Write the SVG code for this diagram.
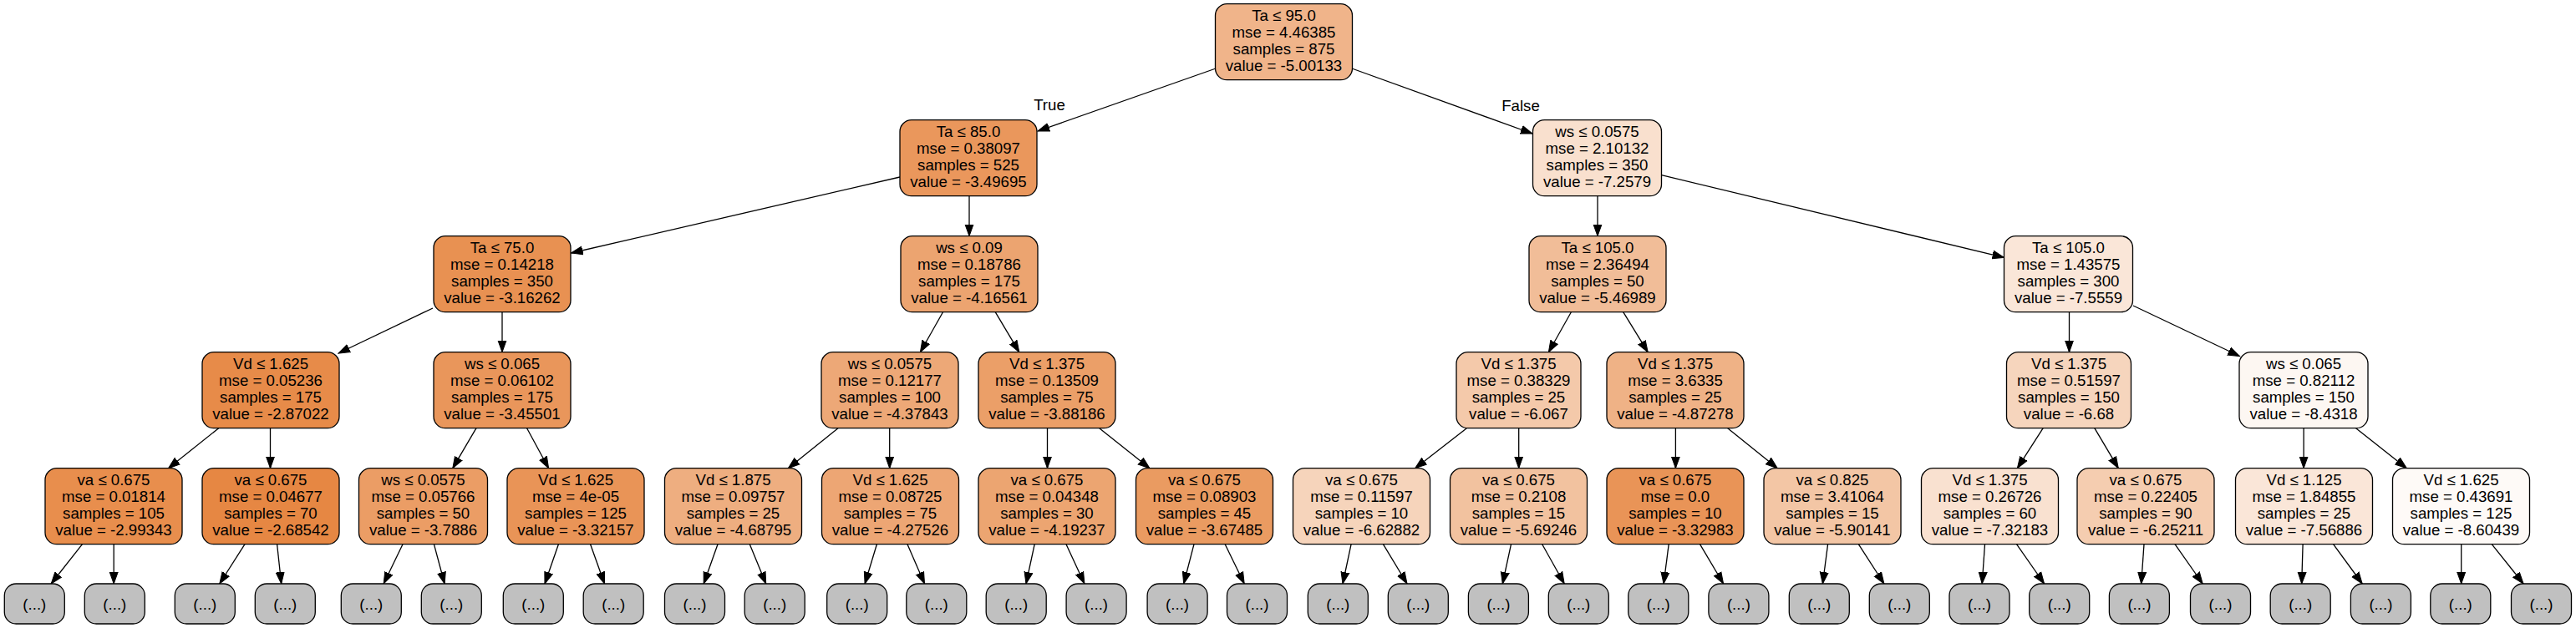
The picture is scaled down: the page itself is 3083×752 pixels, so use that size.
<svg xmlns="http://www.w3.org/2000/svg" width="3083" height="752" viewBox="0 0 3083 752">
<style>
text{font-family:"Liberation Sans",Arial,Helvetica,sans-serif;font-size:18.67px;text-anchor:middle;fill:#000}
.nd rect{stroke:#000;stroke-width:1.3}
.gr rect{fill:#c0c0c0;stroke:#000;stroke-width:1.3}
#edges line{stroke:#000;stroke-width:1.3;marker-end:url(#ah)}
</style>
<defs>
<marker id="ah" markerUnits="userSpaceOnUse" markerWidth="16" markerHeight="12" refX="14" refY="5" orient="auto" viewBox="0 0 16 10">
<path d="M0,0 L14,5 L0,10 z" fill="#000" stroke="#000" stroke-width="1"/>
</marker>
</defs>
<rect width="3083" height="752" fill="#fff"/>
<g id="edges">
<line x1="1455" y1="82" x2="1242" y2="157"/>
<line x1="1618" y1="82" x2="1834" y2="160"/>
<text x="1256" y="132">True</text>
<text x="1820" y="133">False</text>
<line x1="1077" y1="212" x2="683.5" y2="303"/>
<line x1="1160" y1="234.7" x2="1160" y2="282.7"/>
<line x1="1912" y1="234.7" x2="1912" y2="282.7"/>
<line x1="1988.5" y1="209.7" x2="2398.5" y2="308.3"/>
<line x1="518" y1="369" x2="405" y2="423"/>
<line x1="601" y1="373.7" x2="601" y2="421.7"/>
<line x1="1128.5" y1="373.7" x2="1101.4" y2="421.7"/>
<line x1="1191.2" y1="373.7" x2="1219.8" y2="421.7"/>
<line x1="1880.4" y1="373.7" x2="1853.4" y2="421.7"/>
<line x1="1942.7" y1="373.7" x2="1972.2" y2="421.7"/>
<line x1="2476.5" y1="373.7" x2="2476.5" y2="421.7"/>
<line x1="2553" y1="366" x2="2680.5" y2="426.5"/>
<line x1="261.7" y1="512.7" x2="201.5" y2="560.7"/>
<line x1="323.5" y1="512.7" x2="323.5" y2="560.7"/>
<line x1="570" y1="512.7" x2="541.8" y2="560.7"/>
<line x1="630.6" y1="512.7" x2="656.6" y2="560.7"/>
<line x1="1003" y1="512.7" x2="943.3" y2="560.7"/>
<line x1="1064.7" y1="512.7" x2="1064.7" y2="560.7"/>
<line x1="1253.5" y1="512.7" x2="1253.5" y2="560.7"/>
<line x1="1315.7" y1="512.7" x2="1376" y2="560.7"/>
<line x1="1755.4" y1="512.7" x2="1693.7" y2="560.7"/>
<line x1="1817.7" y1="512.7" x2="1817.7" y2="560.7"/>
<line x1="2005.4" y1="512.7" x2="2005.4" y2="560.7"/>
<line x1="2067.7" y1="512.7" x2="2127.3" y2="560.7"/>
<line x1="2445.2" y1="512.7" x2="2414.4" y2="560.7"/>
<line x1="2506.8" y1="512.7" x2="2535.3" y2="560.7"/>
<line x1="2757.1" y1="512.7" x2="2757.1" y2="560.7"/>
<line x1="2819.6" y1="512.7" x2="2880.3" y2="560.7"/>
<line x1="98.5" y1="651.7" x2="61.2" y2="699"/>
<line x1="136.2" y1="651.7" x2="136.2" y2="699"/>
<line x1="293" y1="651.7" x2="262.8" y2="699"/>
<line x1="331.6" y1="651.7" x2="336.7" y2="699"/>
<line x1="482" y1="651.7" x2="459.2" y2="699"/>
<line x1="519.4" y1="651.7" x2="532.1" y2="699"/>
<line x1="668.4" y1="651.7" x2="652" y2="699"/>
<line x1="706.6" y1="651.7" x2="723.5" y2="699"/>
<line x1="859" y1="651.7" x2="842.2" y2="699"/>
<line x1="897.3" y1="651.7" x2="916.7" y2="699"/>
<line x1="1049.4" y1="651.7" x2="1035.1" y2="699"/>
<line x1="1086" y1="651.7" x2="1106.5" y2="699"/>
<line x1="1238.2" y1="651.7" x2="1228" y2="699"/>
<line x1="1276" y1="651.7" x2="1297.9" y2="699"/>
<line x1="1429" y1="651.7" x2="1416.7" y2="699"/>
<line x1="1466.2" y1="651.7" x2="1489.2" y2="699"/>
<line x1="1617.1" y1="651.7" x2="1607" y2="699"/>
<line x1="1655.4" y1="651.7" x2="1684" y2="699"/>
<line x1="1808.5" y1="651.7" x2="1798.3" y2="699"/>
<line x1="1845.7" y1="651.7" x2="1872.2" y2="699"/>
<line x1="1997.2" y1="651.7" x2="1991.1" y2="699"/>
<line x1="2034.5" y1="651.7" x2="2062.6" y2="699"/>
<line x1="2187.6" y1="651.7" x2="2181.4" y2="699"/>
<line x1="2224.3" y1="651.7" x2="2254.9" y2="699"/>
<line x1="2375.5" y1="651.7" x2="2372.2" y2="699"/>
<line x1="2413.5" y1="651.7" x2="2446.6" y2="699"/>
<line x1="2566" y1="651.7" x2="2562.7" y2="699"/>
<line x1="2603" y1="651.7" x2="2636.2" y2="699"/>
<line x1="2756.1" y1="651.7" x2="2754.7" y2="699"/>
<line x1="2792.6" y1="651.7" x2="2827.2" y2="699"/>
<line x1="2945.7" y1="651.7" x2="2945.7" y2="699"/>
<line x1="2982.2" y1="651.7" x2="3020.1" y2="699"/>
</g>
<g id="node0" class="nd"><rect x="1454.5" y="4.7" width="164" height="91" rx="14" fill="#f0b48a"/><text x="1536.5" y="25.4"><tspan x="1536.5">Ta ≤ 95.0</tspan><tspan x="1536.5" dy="20">mse = 4.46385</tspan><tspan x="1536.5" dy="20">samples = 875</tspan><tspan x="1536.5" dy="20">value = -5.00133</tspan></text></g>
<g id="node1" class="nd"><rect x="1077" y="143.7" width="164" height="91" rx="14" fill="#ea975c"/><text x="1159" y="164.4"><tspan x="1159">Ta ≤ 85.0</tspan><tspan x="1159" dy="20">mse = 0.38097</tspan><tspan x="1159" dy="20">samples = 525</tspan><tspan x="1159" dy="20">value = -3.49695</tspan></text></g>
<g id="node2" class="nd"><rect x="1834.5" y="143.7" width="154" height="91" rx="14" fill="#f9e0ce"/><text x="1911.5" y="164.4"><tspan x="1911.5">ws ≤ 0.0575</tspan><tspan x="1911.5" dy="20">mse = 2.10132</tspan><tspan x="1911.5" dy="20">samples = 350</tspan><tspan x="1911.5" dy="20">value = -7.2579</tspan></text></g>
<g id="node3" class="nd"><rect x="519" y="282.7" width="164" height="91" rx="14" fill="#e89152"/><text x="601" y="303.4"><tspan x="601">Ta ≤ 75.0</tspan><tspan x="601" dy="20">mse = 0.14218</tspan><tspan x="601" dy="20">samples = 350</tspan><tspan x="601" dy="20">value = -3.16262</tspan></text></g>
<g id="node4" class="nd"><rect x="1078" y="282.7" width="164" height="91" rx="14" fill="#eca470"/><text x="1160" y="303.4"><tspan x="1160">ws ≤ 0.09</tspan><tspan x="1160" dy="20">mse = 0.18786</tspan><tspan x="1160" dy="20">samples = 175</tspan><tspan x="1160" dy="20">value = -4.16561</tspan></text></g>
<g id="node5" class="nd"><rect x="1830" y="282.7" width="164" height="91" rx="14" fill="#f1bd98"/><text x="1912" y="303.4"><tspan x="1912">Ta ≤ 105.0</tspan><tspan x="1912" dy="20">mse = 2.36494</tspan><tspan x="1912" dy="20">samples = 50</tspan><tspan x="1912" dy="20">value = -5.46989</tspan></text></g>
<g id="node6" class="nd"><rect x="2398.5" y="282.7" width="154" height="91" rx="14" fill="#fae6d8"/><text x="2475.5" y="303.4"><tspan x="2475.5">Ta ≤ 105.0</tspan><tspan x="2475.5" dy="20">mse = 1.43575</tspan><tspan x="2475.5" dy="20">samples = 300</tspan><tspan x="2475.5" dy="20">value = -7.5559</tspan></text></g>
<g id="node7" class="nd"><rect x="242" y="421.7" width="164" height="91" rx="14" fill="#e78b49"/><text x="324" y="442.4"><tspan x="324">Vd ≤ 1.625</tspan><tspan x="324" dy="20">mse = 0.05236</tspan><tspan x="324" dy="20">samples = 175</tspan><tspan x="324" dy="20">value = -2.87022</tspan></text></g>
<g id="node8" class="nd"><rect x="519" y="421.7" width="164" height="91" rx="14" fill="#e9965b"/><text x="601" y="442.4"><tspan x="601">ws ≤ 0.065</tspan><tspan x="601" dy="20">mse = 0.06102</tspan><tspan x="601" dy="20">samples = 175</tspan><tspan x="601" dy="20">value = -3.45501</tspan></text></g>
<g id="node9" class="nd"><rect x="983" y="421.7" width="164" height="91" rx="14" fill="#eda877"/><text x="1065" y="442.4"><tspan x="1065">ws ≤ 0.0575</tspan><tspan x="1065" dy="20">mse = 0.12177</tspan><tspan x="1065" dy="20">samples = 100</tspan><tspan x="1065" dy="20">value = -4.37843</tspan></text></g>
<g id="node10" class="nd"><rect x="1171" y="421.7" width="164" height="91" rx="14" fill="#eb9f68"/><text x="1253" y="442.4"><tspan x="1253">Vd ≤ 1.375</tspan><tspan x="1253" dy="20">mse = 0.13509</tspan><tspan x="1253" dy="20">samples = 75</tspan><tspan x="1253" dy="20">value = -3.88186</tspan></text></g>
<g id="node11" class="nd"><rect x="1743" y="421.7" width="149" height="91" rx="14" fill="#f4c9aa"/><text x="1817.5" y="442.4"><tspan x="1817.5">Vd ≤ 1.375</tspan><tspan x="1817.5" dy="20">mse = 0.38329</tspan><tspan x="1817.5" dy="20">samples = 25</tspan><tspan x="1817.5" dy="20">value = -6.067</tspan></text></g>
<g id="node12" class="nd"><rect x="1923" y="421.7" width="164" height="91" rx="14" fill="#efb286"/><text x="2005" y="442.4"><tspan x="2005">Vd ≤ 1.375</tspan><tspan x="2005" dy="20">mse = 3.6335</tspan><tspan x="2005" dy="20">samples = 25</tspan><tspan x="2005" dy="20">value = -4.87278</tspan></text></g>
<g id="node13" class="nd"><rect x="2401.5" y="421.7" width="149" height="91" rx="14" fill="#f6d5bd"/><text x="2476" y="442.4"><tspan x="2476">Vd ≤ 1.375</tspan><tspan x="2476" dy="20">mse = 0.51597</tspan><tspan x="2476" dy="20">samples = 150</tspan><tspan x="2476" dy="20">value = -6.68</tspan></text></g>
<g id="node14" class="nd"><rect x="2680" y="421.7" width="154" height="91" rx="14" fill="#fdf7f2"/><text x="2757" y="442.4"><tspan x="2757">ws ≤ 0.065</tspan><tspan x="2757" dy="20">mse = 0.82112</tspan><tspan x="2757" dy="20">samples = 150</tspan><tspan x="2757" dy="20">value = -8.4318</tspan></text></g>
<g id="node15" class="nd"><rect x="54" y="560.7" width="164" height="91" rx="14" fill="#e88e4d"/><text x="136" y="581.4"><tspan x="136">va ≤ 0.675</tspan><tspan x="136" dy="20">mse = 0.01814</tspan><tspan x="136" dy="20">samples = 105</tspan><tspan x="136" dy="20">value = -2.99343</tspan></text></g>
<g id="node16" class="nd"><rect x="242" y="560.7" width="164" height="91" rx="14" fill="#e68743"/><text x="324" y="581.4"><tspan x="324">va ≤ 0.675</tspan><tspan x="324" dy="20">mse = 0.04677</tspan><tspan x="324" dy="20">samples = 70</tspan><tspan x="324" dy="20">value = -2.68542</tspan></text></g>
<g id="node17" class="nd"><rect x="429.5" y="560.7" width="154" height="91" rx="14" fill="#eb9d65"/><text x="506.5" y="581.4"><tspan x="506.5">ws ≤ 0.0575</tspan><tspan x="506.5" dy="20">mse = 0.05766</tspan><tspan x="506.5" dy="20">samples = 50</tspan><tspan x="506.5" dy="20">value = -3.7886</tspan></text></g>
<g id="node18" class="nd"><rect x="607" y="560.7" width="164" height="91" rx="14" fill="#e99457"/><text x="689" y="581.4"><tspan x="689">Vd ≤ 1.625</tspan><tspan x="689" dy="20">mse = 4e-05</tspan><tspan x="689" dy="20">samples = 125</tspan><tspan x="689" dy="20">value = -3.32157</tspan></text></g>
<g id="node19" class="nd"><rect x="795.5" y="560.7" width="164" height="91" rx="14" fill="#eeae80"/><text x="877.5" y="581.4"><tspan x="877.5">Vd ≤ 1.875</tspan><tspan x="877.5" dy="20">mse = 0.09757</tspan><tspan x="877.5" dy="20">samples = 25</tspan><tspan x="877.5" dy="20">value = -4.68795</tspan></text></g>
<g id="node20" class="nd"><rect x="983.5" y="560.7" width="164" height="91" rx="14" fill="#eda674"/><text x="1065.5" y="581.4"><tspan x="1065.5">Vd ≤ 1.625</tspan><tspan x="1065.5" dy="20">mse = 0.08725</tspan><tspan x="1065.5" dy="20">samples = 75</tspan><tspan x="1065.5" dy="20">value = -4.27526</tspan></text></g>
<g id="node21" class="nd"><rect x="1171" y="560.7" width="164" height="91" rx="14" fill="#eca571"/><text x="1253" y="581.4"><tspan x="1253">va ≤ 0.675</tspan><tspan x="1253" dy="20">mse = 0.04348</tspan><tspan x="1253" dy="20">samples = 30</tspan><tspan x="1253" dy="20">value = -4.19237</tspan></text></g>
<g id="node22" class="nd"><rect x="1359.5" y="560.7" width="164" height="91" rx="14" fill="#ea9b61"/><text x="1441.5" y="581.4"><tspan x="1441.5">va ≤ 0.675</tspan><tspan x="1441.5" dy="20">mse = 0.08903</tspan><tspan x="1441.5" dy="20">samples = 45</tspan><tspan x="1441.5" dy="20">value = -3.67485</tspan></text></g>
<g id="node23" class="nd"><rect x="1547.5" y="560.7" width="164" height="91" rx="14" fill="#f6d4bb"/><text x="1629.5" y="581.4"><tspan x="1629.5">va ≤ 0.675</tspan><tspan x="1629.5" dy="20">mse = 0.11597</tspan><tspan x="1629.5" dy="20">samples = 10</tspan><tspan x="1629.5" dy="20">value = -6.62882</tspan></text></g>
<g id="node24" class="nd"><rect x="1735.5" y="560.7" width="164" height="91" rx="14" fill="#f2c29f"/><text x="1817.5" y="581.4"><tspan x="1817.5">va ≤ 0.675</tspan><tspan x="1817.5" dy="20">mse = 0.2108</tspan><tspan x="1817.5" dy="20">samples = 15</tspan><tspan x="1817.5" dy="20">value = -5.69246</tspan></text></g>
<g id="node25" class="nd"><rect x="1923" y="560.7" width="164" height="91" rx="14" fill="#e99457"/><text x="2005" y="581.4"><tspan x="2005">va ≤ 0.675</tspan><tspan x="2005" dy="20">mse = 0.0</tspan><tspan x="2005" dy="20">samples = 10</tspan><tspan x="2005" dy="20">value = -3.32983</tspan></text></g>
<g id="node26" class="nd"><rect x="2111" y="560.7" width="164" height="91" rx="14" fill="#f3c6a5"/><text x="2193" y="581.4"><tspan x="2193">va ≤ 0.825</tspan><tspan x="2193" dy="20">mse = 3.41064</tspan><tspan x="2193" dy="20">samples = 15</tspan><tspan x="2193" dy="20">value = -5.90141</tspan></text></g>
<g id="node27" class="nd"><rect x="2299.5" y="560.7" width="164" height="91" rx="14" fill="#f9e1d0"/><text x="2381.5" y="581.4"><tspan x="2381.5">Vd ≤ 1.375</tspan><tspan x="2381.5" dy="20">mse = 0.26726</tspan><tspan x="2381.5" dy="20">samples = 60</tspan><tspan x="2381.5" dy="20">value = -7.32183</tspan></text></g>
<g id="node28" class="nd"><rect x="2486" y="560.7" width="164" height="91" rx="14" fill="#f5cdb0"/><text x="2568" y="581.4"><tspan x="2568">va ≤ 0.675</tspan><tspan x="2568" dy="20">mse = 0.22405</tspan><tspan x="2568" dy="20">samples = 90</tspan><tspan x="2568" dy="20">value = -6.25211</tspan></text></g>
<g id="node29" class="nd"><rect x="2675.5" y="560.7" width="164" height="91" rx="14" fill="#fae6d8"/><text x="2757.5" y="581.4"><tspan x="2757.5">Vd ≤ 1.125</tspan><tspan x="2757.5" dy="20">mse = 1.84855</tspan><tspan x="2757.5" dy="20">samples = 25</tspan><tspan x="2757.5" dy="20">value = -7.56886</tspan></text></g>
<g id="node30" class="nd"><rect x="2863.5" y="560.7" width="164" height="91" rx="14" fill="#fefaf7"/><text x="2945.5" y="581.4"><tspan x="2945.5">Vd ≤ 1.625</tspan><tspan x="2945.5" dy="20">mse = 0.43691</tspan><tspan x="2945.5" dy="20">samples = 125</tspan><tspan x="2945.5" dy="20">value = -8.60439</tspan></text></g>
<g id="leaf1" class="gr"><rect x="5.3" y="699" width="72" height="48" rx="14"/><text x="41.3" y="729.5">(...)</text></g>
<g id="leaf2" class="gr"><rect x="101.3" y="699" width="72" height="48" rx="14"/><text x="137.3" y="729.5">(...)</text></g>
<g id="leaf3" class="gr"><rect x="209.3" y="699" width="72" height="48" rx="14"/><text x="245.3" y="729.5">(...)</text></g>
<g id="leaf4" class="gr"><rect x="305.3" y="699" width="72" height="48" rx="14"/><text x="341.3" y="729.5">(...)</text></g>
<g id="leaf5" class="gr"><rect x="408.3" y="699" width="72" height="48" rx="14"/><text x="444.3" y="729.5">(...)</text></g>
<g id="leaf6" class="gr"><rect x="504.3" y="699" width="72" height="48" rx="14"/><text x="540.3" y="729.5">(...)</text></g>
<g id="leaf7" class="gr"><rect x="602.3" y="699" width="72" height="48" rx="14"/><text x="638.3" y="729.5">(...)</text></g>
<g id="leaf8" class="gr"><rect x="698.2" y="699" width="72" height="48" rx="14"/><text x="734.2" y="729.5">(...)</text></g>
<g id="leaf9" class="gr"><rect x="795.5" y="699" width="72" height="48" rx="14"/><text x="831.5" y="729.5">(...)</text></g>
<g id="leaf10" class="gr"><rect x="891.2" y="699" width="72" height="48" rx="14"/><text x="927.2" y="729.5">(...)</text></g>
<g id="leaf11" class="gr"><rect x="989.7" y="699" width="72" height="48" rx="14"/><text x="1025.7" y="729.5">(...)</text></g>
<g id="leaf12" class="gr"><rect x="1084.8" y="699" width="72" height="48" rx="14"/><text x="1120.8" y="729.5">(...)</text></g>
<g id="leaf13" class="gr"><rect x="1180.2" y="699" width="72" height="48" rx="14"/><text x="1216.2" y="729.5">(...)</text></g>
<g id="leaf14" class="gr"><rect x="1276.1" y="699" width="72" height="48" rx="14"/><text x="1312.1" y="729.5">(...)</text></g>
<g id="leaf15" class="gr"><rect x="1373.1" y="699" width="72" height="48" rx="14"/><text x="1409.1" y="729.5">(...)</text></g>
<g id="leaf16" class="gr"><rect x="1468.5" y="699" width="72" height="48" rx="14"/><text x="1504.5" y="729.5">(...)</text></g>
<g id="leaf17" class="gr"><rect x="1565.3" y="699" width="72" height="48" rx="14"/><text x="1601.3" y="729.5">(...)</text></g>
<g id="leaf18" class="gr"><rect x="1661.3" y="699" width="72" height="48" rx="14"/><text x="1697.3" y="729.5">(...)</text></g>
<g id="leaf19" class="gr"><rect x="1757.4" y="699" width="72" height="48" rx="14"/><text x="1793.4" y="729.5">(...)</text></g>
<g id="leaf20" class="gr"><rect x="1853.3" y="699" width="72" height="48" rx="14"/><text x="1889.3" y="729.5">(...)</text></g>
<g id="leaf21" class="gr"><rect x="1948.8" y="699" width="72" height="48" rx="14"/><text x="1984.8" y="729.5">(...)</text></g>
<g id="leaf22" class="gr"><rect x="2044.9" y="699" width="72" height="48" rx="14"/><text x="2080.9" y="729.5">(...)</text></g>
<g id="leaf23" class="gr"><rect x="2141.3" y="699" width="72" height="48" rx="14"/><text x="2177.3" y="729.5">(...)</text></g>
<g id="leaf24" class="gr"><rect x="2237.3" y="699" width="72" height="48" rx="14"/><text x="2273.3" y="729.5">(...)</text></g>
<g id="leaf25" class="gr"><rect x="2333" y="699" width="72" height="48" rx="14"/><text x="2369" y="729.5">(...)</text></g>
<g id="leaf26" class="gr"><rect x="2428.7" y="699" width="72" height="48" rx="14"/><text x="2464.7" y="729.5">(...)</text></g>
<g id="leaf27" class="gr"><rect x="2524.4" y="699" width="72" height="48" rx="14"/><text x="2560.4" y="729.5">(...)</text></g>
<g id="leaf28" class="gr"><rect x="2621.5" y="699" width="72" height="48" rx="14"/><text x="2657.5" y="729.5">(...)</text></g>
<g id="leaf29" class="gr"><rect x="2717.2" y="699" width="72" height="48" rx="14"/><text x="2753.2" y="729.5">(...)</text></g>
<g id="leaf30" class="gr"><rect x="2813.4" y="699" width="72" height="48" rx="14"/><text x="2849.4" y="729.5">(...)</text></g>
<g id="leaf31" class="gr"><rect x="2908.8" y="699" width="72" height="48" rx="14"/><text x="2944.8" y="729.5">(...)</text></g>
<g id="leaf32" class="gr"><rect x="3005.5" y="699" width="72" height="48" rx="14"/><text x="3041.5" y="729.5">(...)</text></g>
</svg>
